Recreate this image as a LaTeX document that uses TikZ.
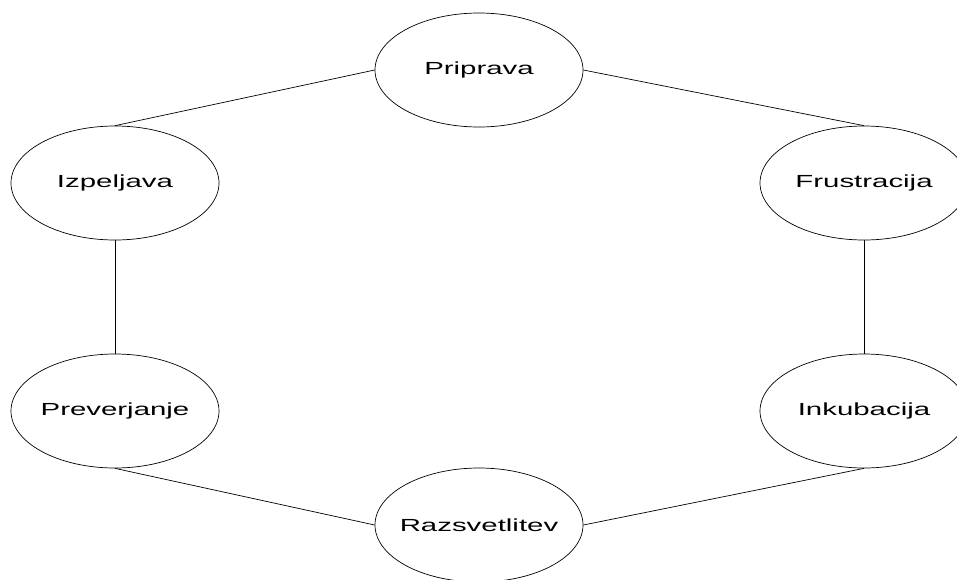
\documentclass[tikz,border=0pt]{standalone}
\usepackage{fontspec}
\setmainfont{Liberation Sans}
\usetikzlibrary{shapes.geometric}
\newcommand{\wide}[1]{\scalebox{1.68}[1]{#1}}
\begin{document}
\begin{tikzpicture}[x=1pt,y=-1pt,
  phase/.style={ellipse,draw,line width=0.7pt,minimum width=208pt,minimum height=114pt,inner sep=0pt,
    label={[font=\fontsize{17.5}{20}\selectfont]center:\wide{#1}}},
  link/.style={line width=0.7pt}]
  \useasboundingbox (0,0) rectangle (957,579);
  \node[phase=Priprava]     (pri) at (479,70)  {};
  \node[phase=Izpeljava]    (izp) at (115,183) {};
  \node[phase=Frustracija]  (fru) at (864,183) {};
  \node[phase=Preverjanje]  (pre) at (115,411) {};
  \node[phase=Inkubacija]   (ink) at (864,411) {};
  \node[phase=Razsvetlitev] (raz) at (479,525) {};
  \draw[link] (pri.west) -- (izp.north);
  \draw[link] (pri.east) -- (fru.north);
  \draw[link] (izp.south) -- (pre.north);
  \draw[link] (fru.south) -- (ink.north);
  \draw[link] (pre.south) -- (raz.west);
  \draw[link] (ink.south) -- (raz.east);
\end{tikzpicture}
\end{document}
